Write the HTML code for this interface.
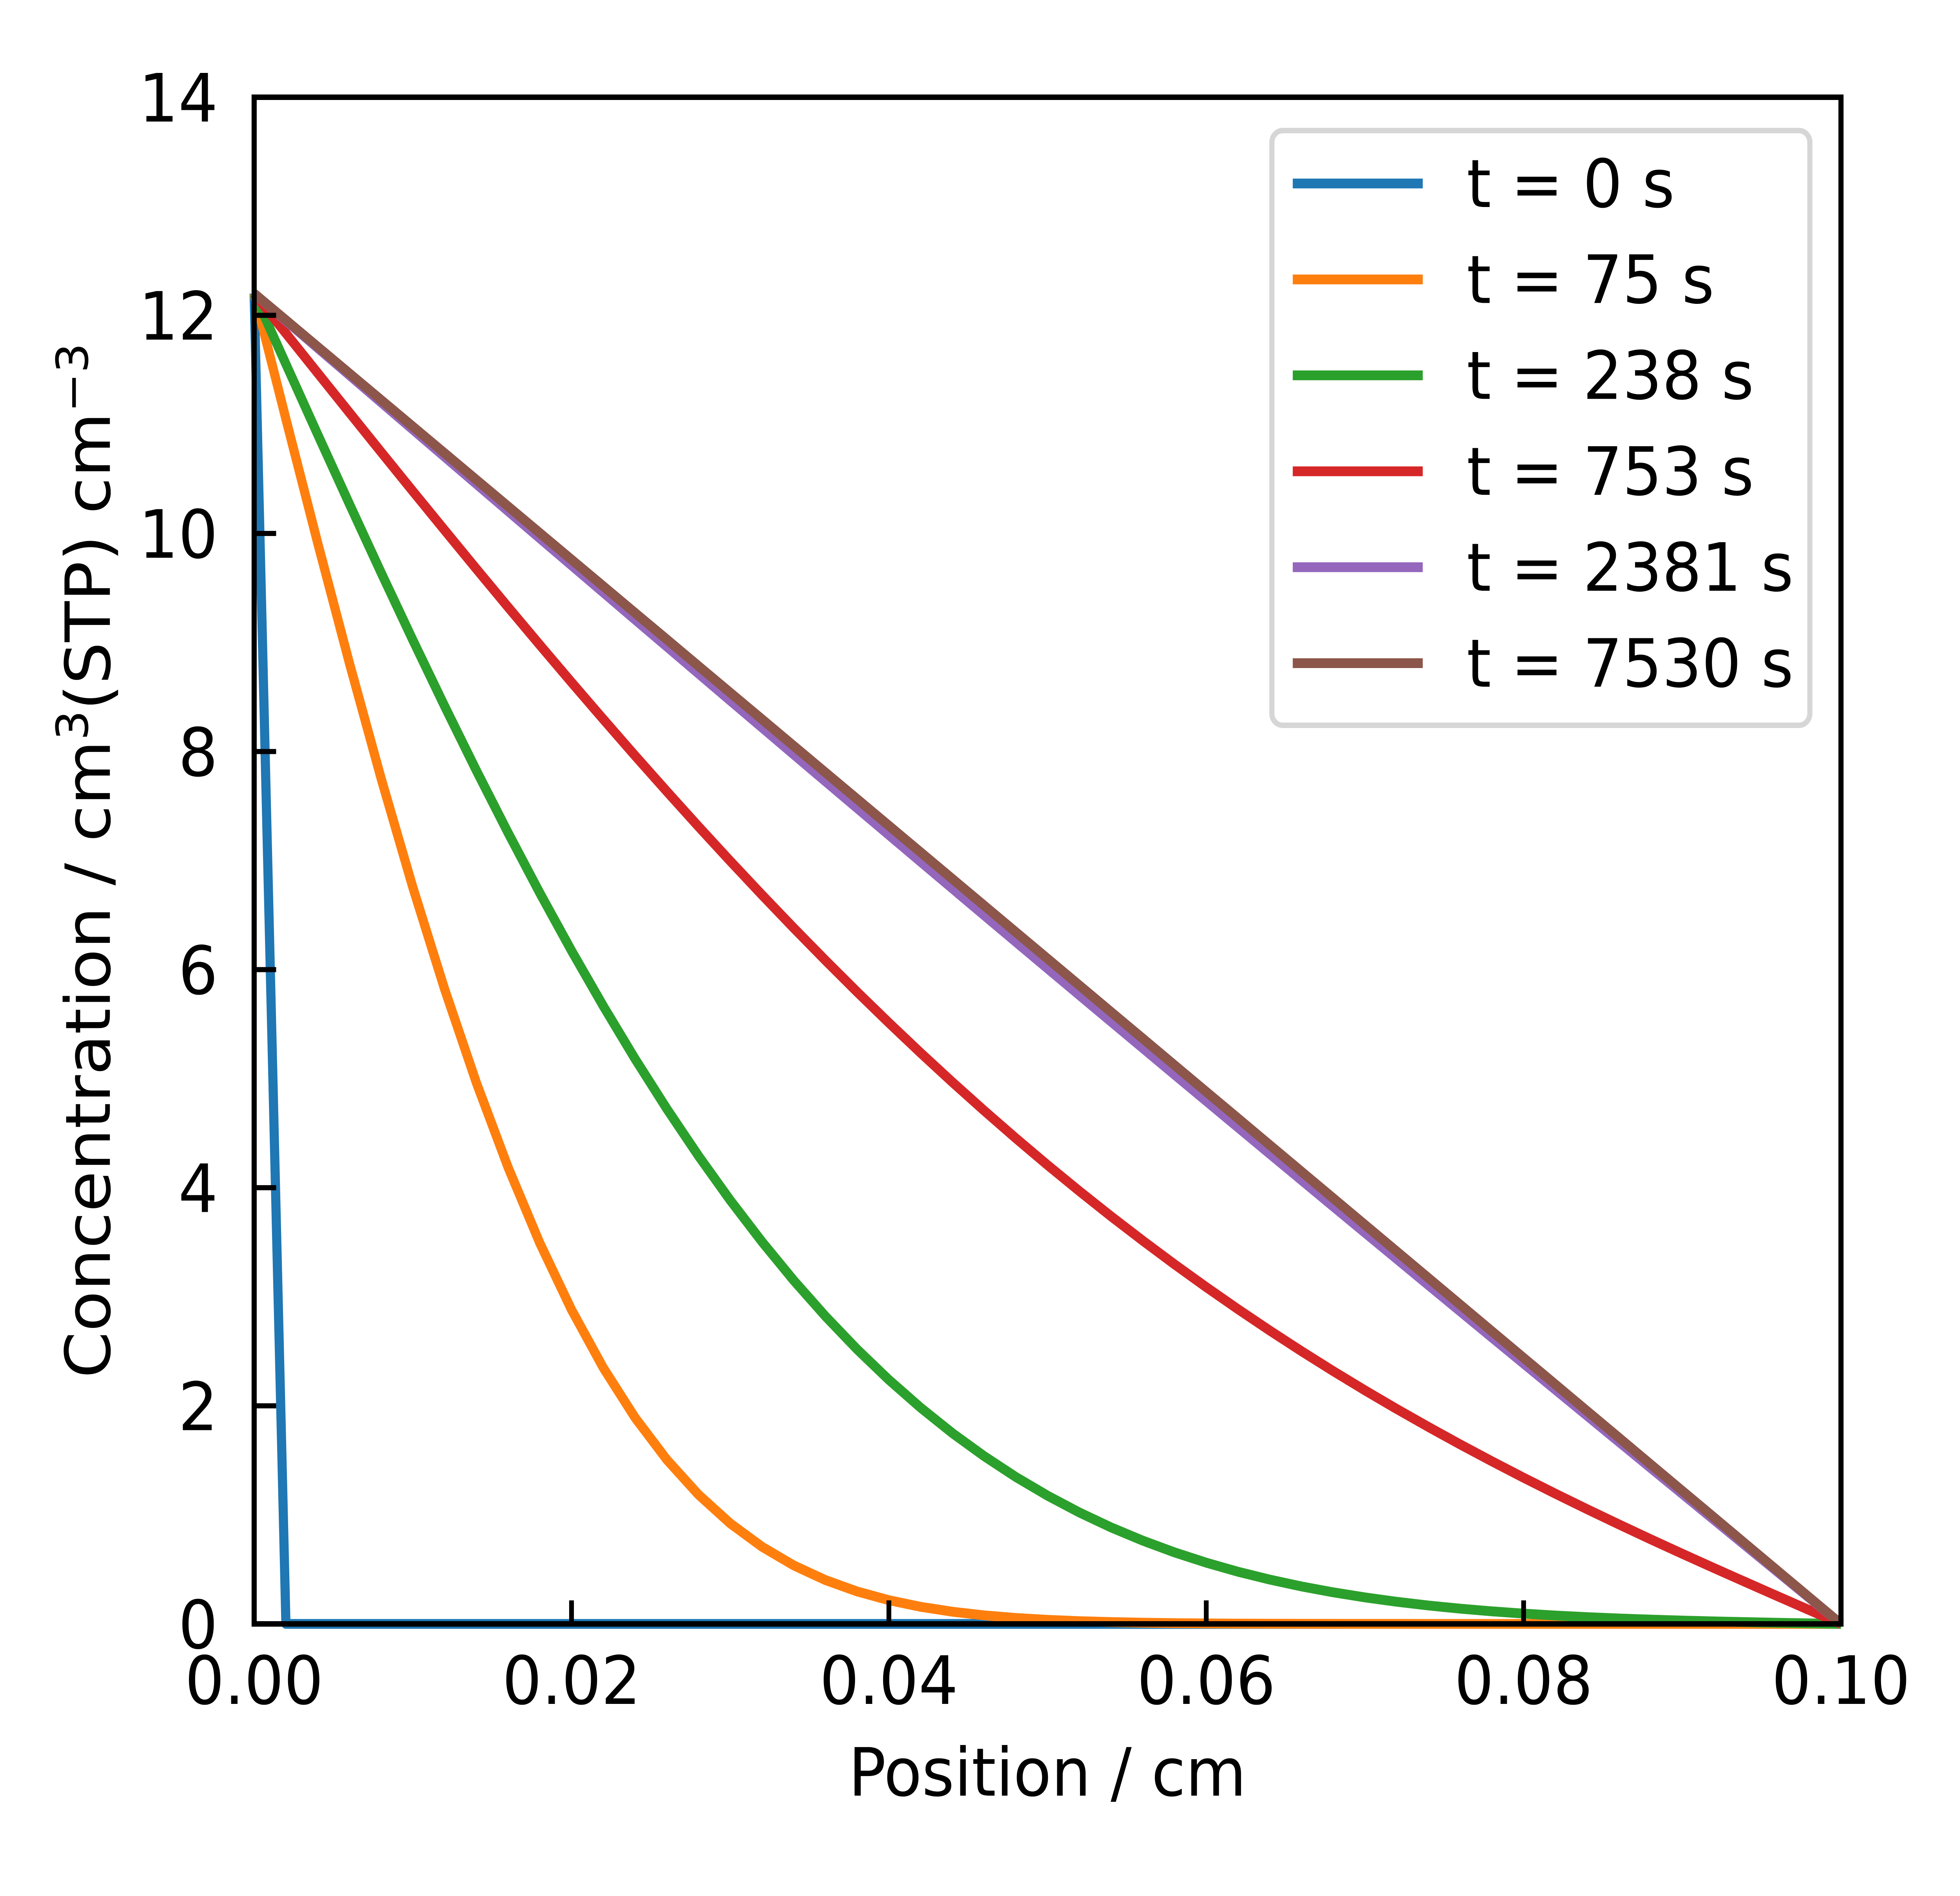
<!DOCTYPE html>
<html><head><meta charset="utf-8"><style>
html,body{margin:0;padding:0;background:#fff;overflow:hidden;width:100%;height:100%}
svg{display:block;width:100vw;height:100vh}
text{font-family:"DejaVu Sans","Liberation Sans",sans-serif;fill:#000}
</style></head><body>
<svg id="s" viewBox="0 0 5352 4836" preserveAspectRatio="none" xmlns="http://www.w3.org/2000/svg">
<rect width="5352" height="4836" fill="#fff"/>
<g id="curves" fill="none" stroke-width="25" stroke-linejoin="round" stroke-linecap="butt"></g>
<rect x="694" y="248" width="4333" height="3894" fill="none" stroke="#000" stroke-width="14"/>
<g id="ticks" stroke="#000" stroke-width="13"></g>
<g id="labels" font-size="170"></g>
<text x="2860" y="4580" font-size="170" text-anchor="middle">Position / cm</text>
<text transform="translate(300,2195) rotate(-90)" font-size="170" text-anchor="middle">Concentration / cm<tspan dy="-60" font-size="120">3</tspan><tspan dy="60">(STP) cm</tspan><tspan dy="-60" font-size="120">−3</tspan></text>
<rect x="3473" y="333" width="1469" height="1517" rx="30" fill="#fff" stroke="#d6d6d6" stroke-width="14"/>
<g id="legend" font-size="170"></g>
</svg>
<script>
var L=694,R=5027,T=248,B=4142;
function X(x){return L+x/0.1*(R-L);}
function Y(c){return B-c/14*(B-T);}
var ns="http://www.w3.org/2000/svg";
function el(tag,attrs,parent,txt){var e=document.createElementNS(ns,tag);for(var k in attrs)e.setAttribute(k,attrs[k]);if(txt!==undefined)e.textContent=txt;parent.appendChild(e);return e;}
var cols=["#1f77b4","#ff7f0e","#2ca02c","#d62728","#9467bd","#8c564b"];
var times=[0,75,238,753,2381,7530];
var C0=12.2,Lm=0.1,D=1.9e-6;
var g=document.getElementById("curves");
for(var k=0;k<6;k++){
  var pts=[];
  for(var i=0;i<=50;i++){
    var x=i*0.002,c;
    if(k==0){c=(i==0)?C0:0;}
    else{
      c=C0*(1-x/Lm);var t=times[k];
      for(var n=1;n<=400;n++){c-=2*C0/Math.PI/n*Math.sin(n*Math.PI*x/Lm)*Math.exp(-D*n*n*Math.PI*Math.PI*t/(Lm*Lm));}
      if(c<0)c=0;
    }
    pts.push(X(x).toFixed(1)+","+Y(c).toFixed(1));
  }
  el("polyline",{points:pts.join(" "),stroke:cols[k]},g);
}
var tg=document.getElementById("ticks"),lg=document.getElementById("labels");
for(var v=0;v<=14;v+=2){
  var y=Y(v);
  el("line",{x1:L,y1:y,x2:L+60,y2:y},tg);
  el("text",{x:595,y:y+62,"text-anchor":"end"},lg,String(v));
}
var xl=["0.00","0.02","0.04","0.06","0.08","0.10"];
for(var j=0;j<6;j++){
  var x=X(j*0.02);
  el("line",{x1:x,y1:B,x2:x,y2:B-60},tg);
  el("text",{x:x,y:4346,"text-anchor":"middle"},lg,xl[j]);
}
var leg=document.getElementById("legend");
for(var k=0;k<6;k++){
  var y=468+k*244.7;
  el("line",{x1:3530,y1:y,x2:3885,y2:y,stroke:cols[k],"stroke-width":25},leg);
  el("text",{x:4005,y:y+60},leg,"t = "+times[k]+" s");
}
</script>
</body></html>
